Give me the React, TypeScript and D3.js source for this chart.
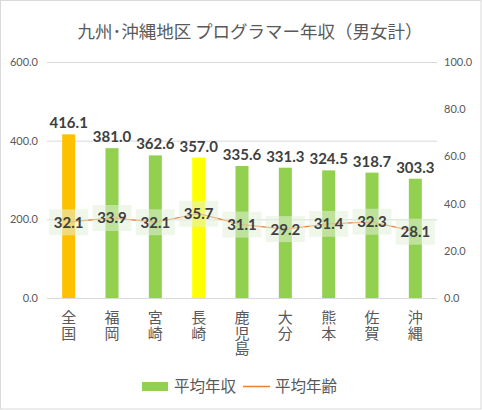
import React from "react";
import * as d3 from "d3";

const categories = ["全国", "福岡", "宮崎", "長崎", "鹿児島", "大分", "熊本", "佐賀", "沖縄"];
const income = [416.1, 381.0, 362.6, 357.0, 335.6, 331.3, 324.5, 318.7, 303.3];
const age = [32.1, 33.9, 32.1, 35.7, 31.1, 29.2, 31.4, 32.3, 28.1];
const leftTicks = [0, 200, 400, 600];
const rightTicks = [0, 20, 40, 60, 80, 100];
const barColors = ["#FFC000", "#92D050", "#92D050", "#FFFF00", "#92D050", "#92D050", "#92D050", "#92D050", "#92D050"];

const W = 482, H = 410;
const M = { left: 47, right: 437, top: 62, bottom: 298 };
const CJK = "'Noto Sans CJK JP', 'Noto Sans', sans-serif";
const NUM = "Lato, 'Open Sans', sans-serif";

export default function App() {
  const x = d3.scaleBand<string>().domain(categories).range([M.left, M.right]).paddingInner(0.7).paddingOuter(0.35);
  const yL = d3.scaleLinear().domain([0, 600]).range([M.bottom, M.top]);
  const yR = d3.scaleLinear().domain([0, 100]).range([M.bottom, M.top]);
  const cx = (c: string) => (x(c) as number) + x.bandwidth() / 2;
  const line = d3.line<number>().x((_, i) => cx(categories[i])).y((d) => yR(d));

  return (
    <svg width={W} height={H} style={{ position: "absolute", left: 0, top: 0, background: "#fff" }}>
      <rect x={0.5} y={0.5} width={W - 1.5} height={H - 1.5} fill="#fff" stroke="#D9D9D9" />
      <text x={250} y={38} textAnchor="middle" fontFamily={CJK} fontSize={17.5} fill="#595959">
        九州･沖縄地区 プログラマー年収（男女計）
      </text>
      {leftTicks.map((t) => (
        <g key={"l" + t}>
          <line x1={M.left} x2={M.right} y1={yL(t) + 0.5} y2={yL(t) + 0.5} stroke="#D9D9D9" />
          <text x={38} y={yL(t) + 4} textAnchor="end" fontFamily={NUM} fontSize={11} fill="#595959">
            {t.toFixed(1)}
          </text>
        </g>
      ))}
      {rightTicks.map((t) => (
        <text key={"r" + t} x={444} y={yR(t) + 4} textAnchor="start" fontFamily={NUM} fontSize={11} fill="#595959">
          {t.toFixed(1)}
        </text>
      ))}
      {categories.map((c, i) => (
        <rect key={"b" + c} x={x(c)} y={yL(income[i])} width={x.bandwidth()} height={M.bottom - yL(income[i])} fill={barColors[i]} />
      ))}
      <path d={line(age) || ""} fill="none" stroke="#ED7D31" strokeWidth={1.25} />
      {categories.map((c, i) => (
        <text key={"bl" + c} x={cx(c)} y={yL(income[i]) - 6} textAnchor="middle" fontFamily={NUM} fontWeight={700} fontSize={15} fill="#404040">
          {income[i].toFixed(1)}
        </text>
      ))}
      {categories.map((c, i) => (
        <g key={"al" + c}>
          <rect x={cx(c) - 19.5} y={yR(age[i]) - 13} width={39} height={26} fill="#E2F0D9" fillOpacity={0.55} />
          <text x={cx(c)} y={yR(age[i]) + 5.5} textAnchor="middle" fontFamily={NUM} fontWeight={700} fontSize={15} fill="#404040">
            {age[i].toFixed(1)}
          </text>
        </g>
      ))}
      {categories.map((c) =>
        Array.from(c).map((ch, j) => (
          <text key={"x" + c + j} x={cx(c)} y={323 + j * 15.5} fontFamily={CJK} fontSize={15} fill="#595959" textAnchor="middle">
            {ch}
          </text>
        ))
      )}
      <rect x={142} y={382} width={26} height={9} fill="#92D050" />
      <text x={174} y={392} fontFamily={CJK} fontSize={15.5} fill="#595959">平均年収</text>
      <line x1={243} x2={270} y1={386.5} y2={386.5} stroke="#ED7D31" strokeWidth={1.5} />
      <text x={275} y={392} fontFamily={CJK} fontSize={15.5} fill="#595959">平均年齢</text>
    </svg>
  );
}
